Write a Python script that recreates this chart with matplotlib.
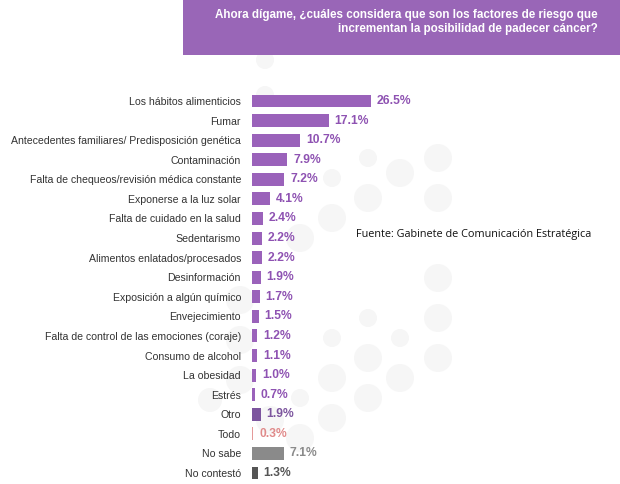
import matplotlib
matplotlib.use('Agg')
import matplotlib.pyplot as plt
from matplotlib.patches import Circle

plt.rcParams['font.family'] = ['Liberation Sans', 'DejaVu Sans']

# datos de la encuesta
categorias = [
    'Los hábitos alimenticios', 'Fumar',
    'Antecedentes familiares/ Predisposición genética', 'Contaminación',
    'Falta de chequeos/revisión médica constante', 'Exponerse a la luz solar',
    'Falta de cuidado en la salud', 'Sedentarismo',
    'Alimentos enlatados/procesados', 'Desinformación',
    'Exposición a algún químico', 'Envejecimiento',
    'Falta de control de las emociones (coraje)', 'Consumo de alcohol',
    'La obesidad', 'Estrés', 'Otro', 'Todo', 'No sabe', 'No contestó',
]
valores = [26.5, 17.1, 10.7, 7.9, 7.2, 4.1, 2.4, 2.2, 2.2, 1.9,
           1.7, 1.5, 1.2, 1.1, 1.0, 0.7, 1.9, 0.3, 7.1, 1.3]

morado = '#9a62ba'
barra_col = [morado] * 16 + ['#7c559e', '#e49a9a', '#8a8a8a', '#555555']
texto_col = ['#8e52b2'] * 16 + ['#7c559e', '#e08a8a', '#8a8a8a', '#555555']

fig = plt.figure(figsize=(6.2, 4.84), dpi=100)
fig.patch.set_facecolor('white')

# fondo en pixeles: circulos decorativos y encabezado
bg = fig.add_axes([0, 0, 1, 1], zorder=0)
bg.set_xlim(0, 620)
bg.set_ylim(484, 0)
bg.axis('off')
circulos = [(438, 158, 14), (400, 173, 14), (368, 158, 9), (332, 178, 9),
            (368, 198, 14), (438, 198, 14), (332, 218, 14), (300, 238, 14),
            (438, 278, 14), (438, 318, 14), (400, 338, 9), (368, 318, 9),
            (332, 338, 9), (368, 358, 14), (438, 358, 14), (332, 378, 14),
            (400, 378, 14), (368, 398, 14), (332, 418, 14), (300, 398, 9),
            (300, 438, 14), (265, 60, 9), (265, 95, 9), (240, 300, 14),
            (240, 340, 14), (240, 380, 14), (270, 420, 14), (210, 400, 12)]
for cx, cy, r in circulos:
    bg.add_patch(Circle((cx, cy), r, facecolor='#f6f6f6', edgecolor='none'))
bg.add_patch(plt.Rectangle((183, 0), 437, 55, facecolor='#9966b7', edgecolor='none'))
bg.text(598, 22,
        'Ahora dígame, ¿cuáles considera que son los factores de riesgo que\n'
        'incrementan la posibilidad de padecer cáncer?',
        ha='right', va='center', color='white', fontsize=8.4, fontweight='bold',
        linespacing=1.25)
bg.text(356, 234, 'Fuente: Gabinete de Comunicación Estratégica',
        ha='left', va='center', fontsize=7.8, color='#111111', family='Open Sans')

ax = fig.add_axes([252 / 620, 1 - 482.8 / 484, 1 - 252 / 620, (482.8 - 91.2) / 484], zorder=2)
ax.set_facecolor('none')
y = list(range(len(categorias)))
ax.barh(y, valores, height=0.66, color=barra_col, zorder=3)
ax.set_xlim(0, 82)
ax.set_ylim(len(categorias) - 0.5, -0.5)
for i, v in enumerate(valores):
    ax.text(v + 1.3, i, f'{v:.1f}%', va='center', ha='left', fontsize=8.7,
            fontweight='bold', color=texto_col[i], zorder=4)
ax.set_yticks(y)
ax.set_yticklabels(categorias, fontsize=7.6, color='#333333')
ax.tick_params(axis='y', length=0, pad=8)
ax.set_xticks([])
for s in ax.spines.values():
    s.set_visible(False)

fig.savefig('out.png', dpi=100)
